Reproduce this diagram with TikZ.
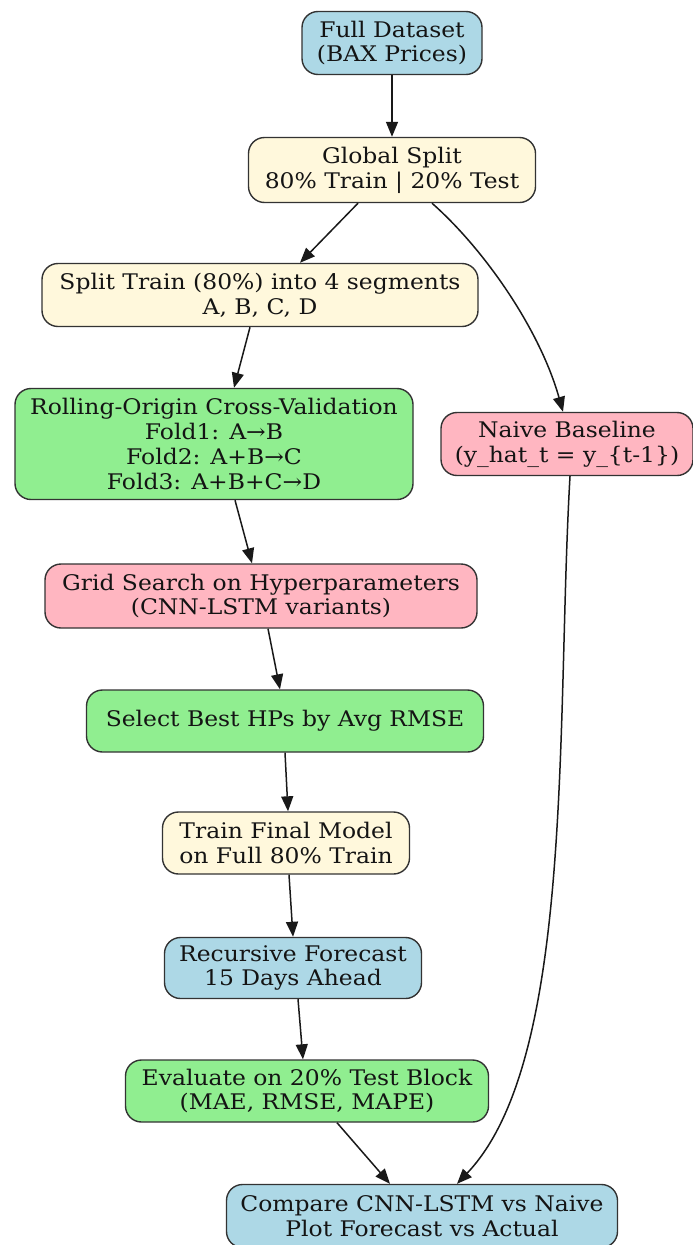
\documentclass[tikz,border=0pt]{standalone}
\usepackage{fontspec}
\setmainfont{DejaVu Serif}[FakeStretch=1.09]
\usetikzlibrary{arrows.meta}
\definecolor{cblue}{HTML}{ADD8E6}
\definecolor{cyellow}{HTML}{FFF8DC}
\definecolor{cgreen}{HTML}{90EE90}
\definecolor{cpink}{HTML}{FFB6C1}
\tikzset{
  box/.style={draw=black!80, line width=1.4pt, rounded corners=16pt, align=center,
    inner sep=0pt, font=\fontsize{21.5}{24.8}\selectfont, text=black!92},
  flow/.style={-{Triangle[length=15pt,width=12pt]}, line width=1.5pt, black!90},
}
\begin{document}
\begin{tikzpicture}[x=1pt,y=-1pt]
\useasboundingbox (0,0) rectangle (693,1245);
\node[box, fill=cblue, minimum width=180, minimum height=63] (full) at (392,43) {Full Dataset\\(BAX Prices)};
\node[box, fill=cyellow, minimum width=287, minimum height=65] (split) at (392,170) {Global Split\\80\% Train | 20\% Test};
\node[box, fill=cyellow, minimum width=436, minimum height=63] (seg) at (260,295) {Split Train (80\%) into 4 segments\\A, B, C, D};
\node[box, fill=cgreen, minimum width=398, minimum height=111] (cv) at (214,444) {Rolling-Origin Cross-Validation\\Fold1: A→B\\Fold2: A+B→C\\Fold3: A+B+C→D};
\node[box, fill=cpink, minimum width=252, minimum height=63] (naive) at (567,444) {Naive Baseline\\(y\_hat\_t = y\_\{t-1\})};
\node[box, fill=cpink, minimum width=432, minimum height=64] (grid) at (261,596) {Grid Search on Hyperparameters\\(CNN-LSTM variants)};
\node[box, fill=cgreen, minimum width=397, minimum height=62] (best) at (285,721) {Select Best HPs by Avg RMSE};
\node[box, fill=cyellow, minimum width=247, minimum height=62] (final) at (286,843) {Train Final Model\\on Full 80\% Train};
\node[box, fill=cblue, minimum width=257, minimum height=61] (rec) at (293,968) {Recursive Forecast\\15 Days Ahead};
\node[box, fill=cgreen, minimum width=363, minimum height=62] (eval) at (307,1091) {Evaluate on 20\% Test Block\\(MAE, RMSE, MAPE)};
\node[box, fill=cblue, minimum width=391, minimum height=63] (cmp) at (422,1216) {Compare CNN-LSTM vs Naive\\Plot Forecast vs Actual};

\draw[flow] (full) -- (split);
\draw[flow] (split.south -| 358,0) -- (seg.north -| 300,0);
\draw[flow] (split.south -| 432,0) .. controls (485,250) and (540,330) .. (naive.north -| 563,0);
\draw[flow] (seg.south -| 250,0) -- (cv.north -| 234,0);
\draw[flow] (cv.south -| 235,0) -- (grid.north -| 252,0);
\draw[flow] (grid.south -| 268,0) -- (best.north -| 280,0);
\draw[flow] (best.south -| 285,0) -- (final.north -| 288,0);
\draw[flow] (final.south -| 289,0) -- (rec.north -| 293,0);
\draw[flow] (rec.south -| 298,0) -- (eval.north -| 303,0);
\draw[flow] (eval.south -| 337,0) -- (cmp.north -| 390,0);
\draw[flow] (naive.south -| 570,0) .. controls (556,720) and (575,1060) .. (cmp.north -| 457,0);
\end{tikzpicture}
\end{document}
